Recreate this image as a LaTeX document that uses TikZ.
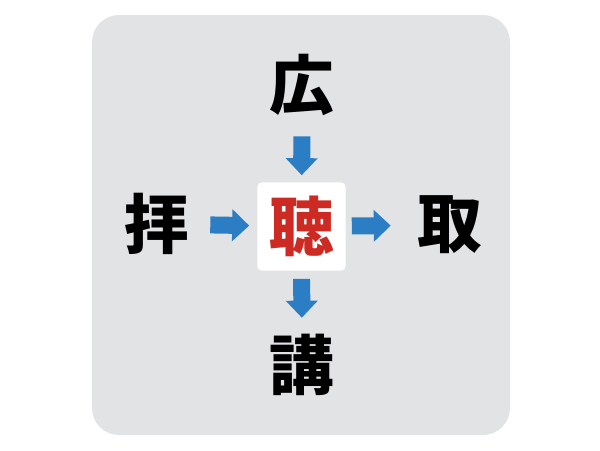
\documentclass[tikz,border=0pt]{standalone}
\usepackage{fontspec}
\IfFontExistsTF{Noto Sans CJK JP Black}
  {\newfontfamily\cjk{Noto Sans CJK JP Black}}
  {\newfontfamily\cjk{Noto Sans CJK JP}[FakeBold=2]}
\usepackage{xcolor}
\usepackage{tikz}
\usetikzlibrary{arrows.meta,positioning}
\definecolor{panelgray}{HTML}{E1E3E5}
\definecolor{arrowblue}{HTML}{2B7DC4}
\definecolor{hubred}{HTML}{CC2A22}
\begin{document}
\begin{tikzpicture}[x=0.025cm,y=-0.025cm,
  kanji/.style={inner sep=0pt,minimum size=2.2cm,font=\cjk\fontsize{46}{50}\selectfont},
  hub/.style={kanji,fill=white,rounded corners=0.1cm,text=hubred},
  blockarrow/.style={arrowblue,line width=0.425cm,-{Triangle[width=0.775cm,length=0.425cm]}}]
\useasboundingbox (0,0) rectangle (600,450);
\fill[panelgray,rounded corners=0.675cm] (92,15) rectangle (510,435);

\node[hub] (ting) at (301.5,226.5) {聴};
\node[kanji] (kou) at (302,85) {広};
\node[kanji] (hai) at (157,224) {拝};
\node[kanji] (shu) at (450,225) {取};
\node[kanji] (kou2) at (302,365) {講};

\draw[blockarrow,shorten <=0.175cm,shorten >=0.175cm] (kou) -- (ting);
\draw[blockarrow,shorten <=0.225cm,shorten >=0.2cm] (hai) -- (ting);
\draw[blockarrow,shorten <=0.15cm,shorten >=0.375cm] (ting) -- (shu);
\draw[blockarrow,shorten <=0.2cm,shorten >=0.075cm] (ting) -- (kou2);
\end{tikzpicture}
\end{document}
